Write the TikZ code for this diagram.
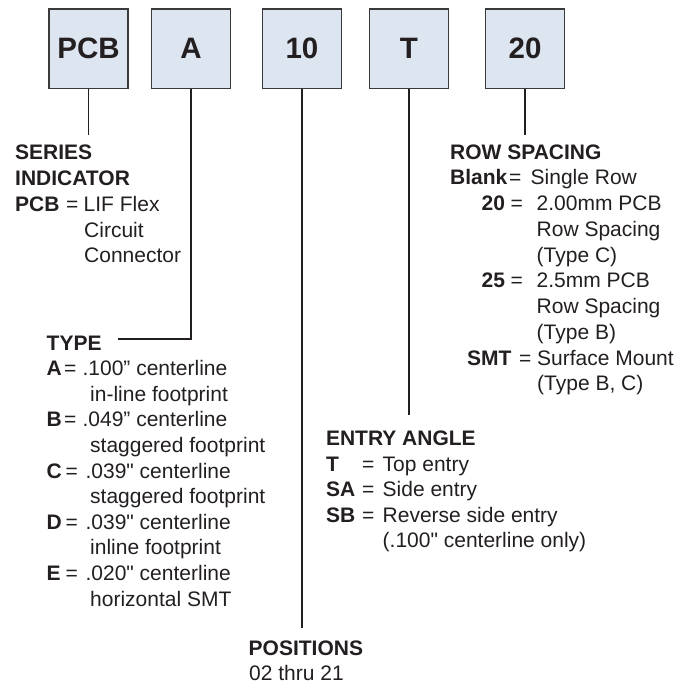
\documentclass[tikz,border=0pt]{standalone}
\usepackage{fontspec}
\setmainfont{Liberation Sans}[Ligatures=TeXOff]
\definecolor{ink}{HTML}{231F20}
\definecolor{boxfill}{HTML}{DDE5F0}
\definecolor{boxline}{HTML}{3A3A3A}
\tikzset{
  codebox/.style={draw=boxline, line width=1.2pt, fill=boxfill, minimum width=79pt, minimum height=79.5pt, inner sep=0pt, text=ink, font=\fontsize{29.5}{30}\selectfont\bfseries},
  txt/.style={anchor=base west, inner sep=0pt, text=ink, font=\fontsize{21}{25.7}\selectfont},
  lbl/.style={txt, font=\fontsize{21}{25.7}\selectfont\bfseries},
  lead/.style={draw=ink, line width=1.7pt}
}
\begin{document}
\begin{tikzpicture}[x=1pt, y=-1pt]
\useasboundingbox (0,0) rectangle (690,686);
% code boxes
\node[codebox] (pcb) at (88.5,48.75) {PCB};
\node[codebox] (typ) at (191,48.75) {A};
\node[codebox] (pos) at (302,48.75) {10};
\node[codebox] (ent) at (409,48.75) {T};
\node[codebox] (row) at (525,48.75) {20};
% connector ends
\coordinate (pcbend) at (88.5,135);
\coordinate (typbend) at (191,339);
\coordinate (typend) at (118,339);
\coordinate (posend) at (302,628);
\coordinate (entend) at (409,415);
\coordinate (rowend) at (525,135);
\draw[lead] (pcb.south) -- (pcbend);
\draw[lead] (typ.south) -- (typbend) -- (typend);
\draw[lead] (pos.south) -- (posend);
\draw[lead] (ent.south) -- (entend);
\draw[lead] (row.south) -- (rowend);
% series indicator
\node[lbl] (ser1) at (15,159) {SERIES};
\node[lbl] (ser2) at (15,185) {INDICATOR};
\node[lbl] (serk) at (15,211) {PCB};
\node[txt] (sereq) at (65.8,211) {=};
\node[txt] (serv1) at (83.5,211) {LIF Flex};
\node[txt] (serv2) at (84,237) {Circuit};
\node[txt] (serv3) at (84,262) {Connector};
% type
\node[lbl] (ty0) at (46.5,350) {TYPE};
\node[lbl] (tyak) at (46.5,375.6) {A};
\node[txt] (tyaeq) at (64,375.6) {=};
\node[txt] (tyav) at (82.4,375.6) {.100” centerline};
\node[txt] (tyav2) at (90,401.2) {in-line footprint};
\node[lbl] (tybk) at (46.5,426.8) {B};
\node[txt] (tybeq) at (64,426.8) {=};
\node[txt] (tybv) at (82.4,426.8) {.049” centerline};
\node[txt] (tybv2) at (90,452.4) {staggered footprint};
\node[lbl] (tyck) at (46.5,478) {C};
\node[txt] (tyceq) at (65.5,478) {=};
\node[txt] (tycv) at (85.4,478) {.039" centerline};
\node[txt] (tycv2) at (90,503.6) {staggered footprint};
\node[lbl] (tydk) at (46.5,529.2) {D};
\node[txt] (tydeq) at (65.5,529.2) {=};
\node[txt] (tydv) at (85.4,529.2) {.039" centerline};
\node[txt] (tydv2) at (90,554.8) {inline footprint};
\node[lbl] (tyek) at (46.5,580.4) {E};
\node[txt] (tyeeq) at (65.5,580.4) {=};
\node[txt] (tyev) at (85.4,580.4) {.020" centerline};
\node[txt] (tyev2) at (90,606) {horizontal SMT};
% row spacing
\node[lbl] (rs0) at (450,159) {ROW SPACING};
\node[lbl] (rsbk) at (450,184.75) {Blank};
\node[txt] (rsbeq) at (509,184.75) {=};
\node[txt] (rsbv) at (530.5,184.75) {Single Row};
\node[lbl] (rs20k) at (481.5,210.5) {20};
\node[txt] (rs20eq) at (510.5,210.5) {=};
\node[txt] (rs20v) at (536.5,210.5) {2.00mm PCB};
\node[txt] (rs20v2) at (536.5,236.25) {Row Spacing};
\node[txt] (rs20v3) at (536.5,262) {(Type C)};
\node[lbl] (rs25k) at (481.5,287.75) {25};
\node[txt] (rs25eq) at (510.5,287.75) {=};
\node[txt] (rs25v) at (536.5,287.75) {2.5mm PCB};
\node[txt] (rs25v2) at (536.5,313.5) {Row Spacing};
\node[txt] (rs25v3) at (536.5,339.25) {(Type B)};
\node[lbl] (rssk) at (467,365) {SMT};
\node[txt] (rsseq) at (519,365) {=};
\node[txt] (rssv) at (537,365) {Surface Mount};
\node[txt] (rssv2) at (537,390.75) {(Type B, C)};
% entry angle
\node[lbl] (ea0) at (325.8,445) {ENTRY ANGLE};
\node[lbl] (eatk) at (325.8,471) {T};
\node[txt] (eateq) at (361.8,471) {=};
\node[txt] (eatv) at (382.5,471) {Top entry};
\node[lbl] (eask) at (325.8,496.5) {SA};
\node[txt] (easeq) at (361.8,496.5) {=};
\node[txt] (easv) at (382.5,496.5) {Side entry};
\node[lbl] (eabk) at (325.8,522) {SB};
\node[txt] (eabeq) at (361.8,522) {=};
\node[txt] (eabv) at (382.5,522) {Reverse side entry};
\node[txt] (eabv2) at (382.5,547.5) {(.100" centerline only)};
% positions
\node[lbl] (po0) at (248.5,655) {POSITIONS};
\node[txt] (po1) at (249,680) {02 thru 21};
\end{tikzpicture}
\end{document}
